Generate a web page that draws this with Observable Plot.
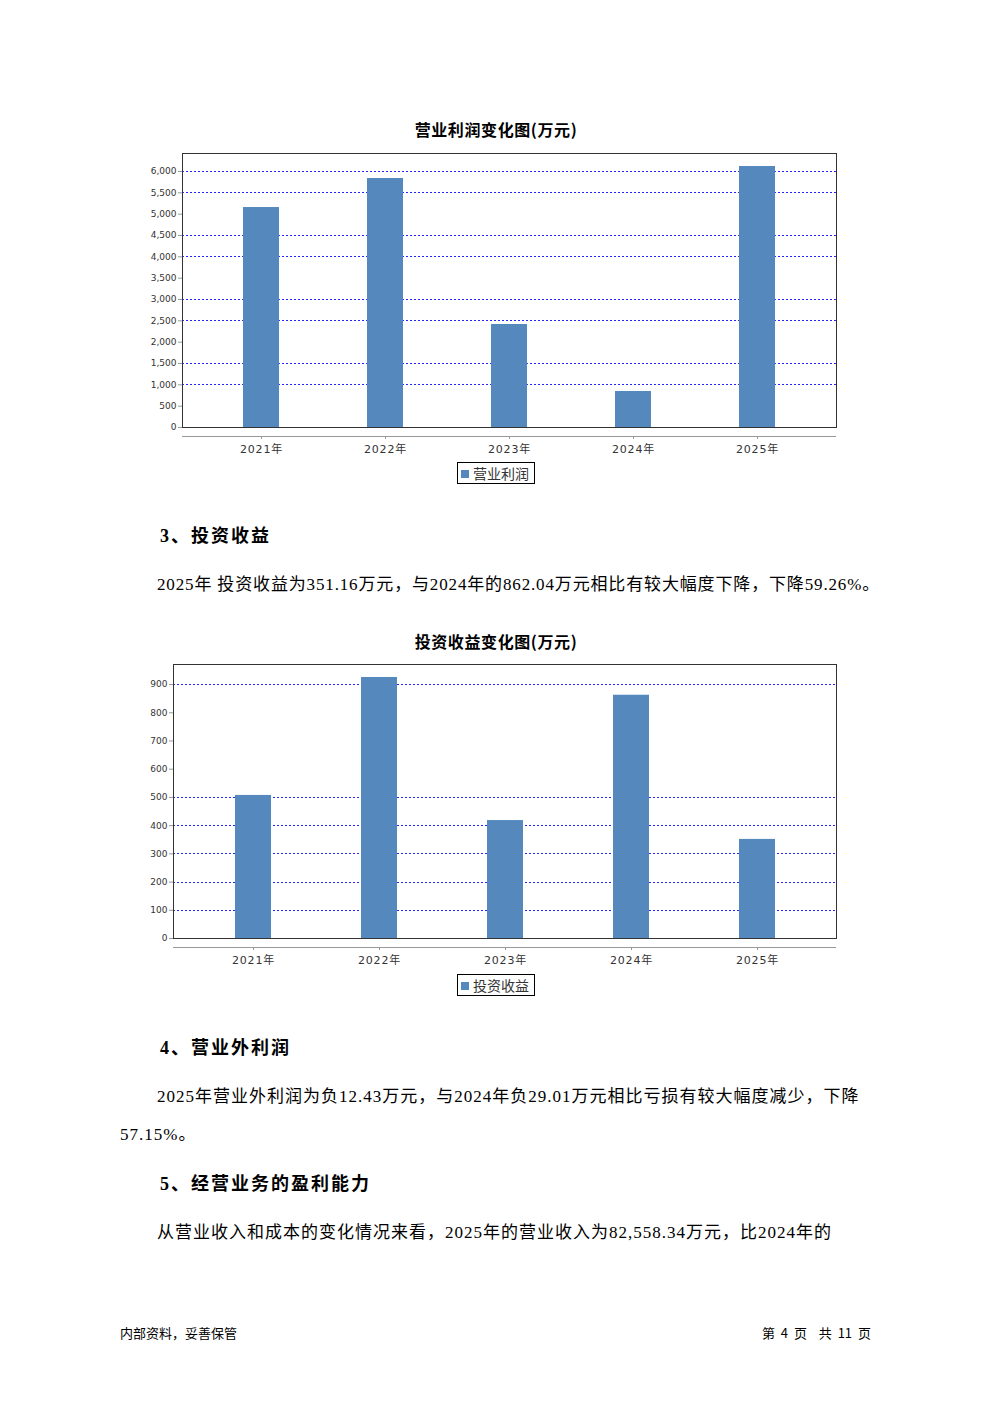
<!DOCTYPE html>
<html>
<head>
<meta charset="utf-8">
<script src="https://cdn.jsdelivr.net/npm/d3@7"></script>
<script src="https://cdn.jsdelivr.net/npm/@observablehq/plot@0.6"></script>
<style>
  html, body { margin: 0; padding: 0; background: #fff; }
  #page { position: relative; width: 992px; height: 1403px; background: #fff; overflow: hidden; }
  .abs { position: absolute; white-space: nowrap; }
  .ctitle { font-family: "Noto Sans CJK SC", sans-serif; font-weight: bold; font-size: 16px; letter-spacing: 0.6px; line-height: 18px; left: 0; width: 992px; text-align: center; color: #000; }
  .legend { border: 1px solid #000; box-sizing: border-box; width: 78px; height: 22px; font-family: "Noto Sans CJK SC", sans-serif; font-size: 14px; line-height: 20px; color: #333; }
  .legend span.sw { display: inline-block; width: 8px; height: 8px; background: #5589be; margin: 0 4px 0 3px; vertical-align: 1px; }
  .h { font-family: "Liberation Serif", "Noto Sans CJK SC", serif; font-weight: bold; font-size: 18px; letter-spacing: 2px; line-height: 20px; color: #000; }
  .p { font-family: "Liberation Serif", "Noto Sans CJK SC", serif; font-size: 17px; letter-spacing: 1px; line-height: 20px; color: #000; }
  .foot { font-family: "Noto Sans CJK SC", sans-serif; font-size: 13px; line-height: 14px; color: #000; }
  .chart { position: absolute; left: 0; }
  .chart svg g[aria-label="x-axis tick label"] text { letter-spacing: 0.8px; }
</style>
</head>
<body>
<div id="page">
  <div class="abs ctitle" style="top:120px;">营业利润变化图(万元)</div>
  <div class="chart" id="c1" style="top:140px;"></div>
  <div class="abs legend" style="left:457px; top:462px;"><span class="sw"></span>营业利润</div>

  <div class="abs h" style="left:160px; top:526px;">3、投资收益</div>
  <div class="abs p" style="left:157px; top:575px; letter-spacing: 0.85px;">2025年 投资收益为351.16万元，与2024年的862.04万元相比有较大幅度下降，下降59.26%。</div>

  <div class="abs ctitle" style="top:632px;">投资收益变化图(万元)</div>
  <div class="chart" id="c2" style="top:652px;"></div>
  <div class="abs legend" style="left:457px; top:974px;"><span class="sw"></span>投资收益</div>

  <div class="abs h" style="left:160px; top:1038px;">4、营业外利润</div>
  <div class="abs p" style="left:157px; top:1087px;">2025年营业外利润为负12.43万元，与2024年负29.01万元相比亏损有较大幅度减少，下降</div>
  <div class="abs p" style="left:120px; top:1125px;">57.15%。</div>

  <div class="abs h" style="left:160px; top:1174px;">5、经营业务的盈利能力</div>
  <div class="abs p" style="left:157px; top:1223px;">从营业收入和成本的变化情况来看，2025年的营业收入为82,558.34万元，比2024年的</div>

  <div class="abs foot" style="left:120px; top:1326px;">内部资料，妥善保管</div>
  <div class="abs foot" style="right:121px; top:1326px; word-spacing: 3px;">第 4 页 &nbsp;共 11 页</div>
</div>
<script>
const years = ["2021年", "2022年", "2023年", "2024年", "2025年"];
const opProfit = [5156, 5836, 2414, 844, 6117];
const invIncome = [507, 925, 418, 862.04, 351.16];

const opTicks = [0, 500, 1000, 1500, 2000, 2500, 3000, 3500, 4000, 4500, 5000, 5500, 6000];
const opGrid = [1000, 1500, 2500, 3000, 4000, 4500, 5500, 6000];
const opMax = 6422;

const invTicks = [0, 100, 200, 300, 400, 500, 600, 700, 800, 900];
const invGrid = [100, 200, 300, 400, 500, 900];
const invMax = 971;

const barColor = "#5589be";

function makeChart(values, ticks, grid, yMax, cfg) {
  const table = years.map((y, i) => ({year: y, value: values[i]}));
  return Plot.plot({
    width: 992,
    height: 320,
    marginLeft: cfg.left,
    marginRight: cfg.right,
    marginTop: cfg.top,
    marginBottom: cfg.bottom,
    style: {fontFamily: '"DejaVu Sans", "Noto Sans CJK SC", sans-serif', background: "transparent", color: "#333", overflow: "visible"},
    x: {domain: years, range: cfg.xrange, paddingInner: cfg.pi, paddingOuter: cfg.po, label: null},
    y: {domain: [0, yMax], label: null},
    marks: [
      Plot.ruleY(grid, {stroke: "#2424ff", strokeDasharray: "2,2", strokeWidth: 1, shapeRendering: "crispEdges"}),
      Plot.barY(table, {x: "year", y: "value", fill: barColor}),
      Plot.frame({stroke: "#333", strokeWidth: 1}),
      Plot.axisY(ticks, {label: null, tickSize: 4, tickPadding: 2, tickFormat: d3.format(","), fontSize: 9, stroke: "#999", fill: "#333"}),
      Plot.ruleY([0], {dy: 9, stroke: "#999"}),
      Plot.axisX({label: null, tickSize: 3, tickPadding: 6, dy: 9, fontSize: 11, stroke: "#999", fill: "#333"})
    ]
  });
}

document.getElementById("c1").appendChild(
  makeChart(opProfit, opTicks, opGrid, opMax, {left: 182, right: 156, top: 13, bottom: 33, xrange: [199, 819], pi: 0.71, po: 0.355})
);
document.getElementById("c2").appendChild(
  makeChart(invIncome, invTicks, invGrid, invMax, {left: 173, right: 156, top: 12, bottom: 34, xrange: [190, 820], pi: 0.714, po: 0.357})
);
</script>
</body>
</html>
